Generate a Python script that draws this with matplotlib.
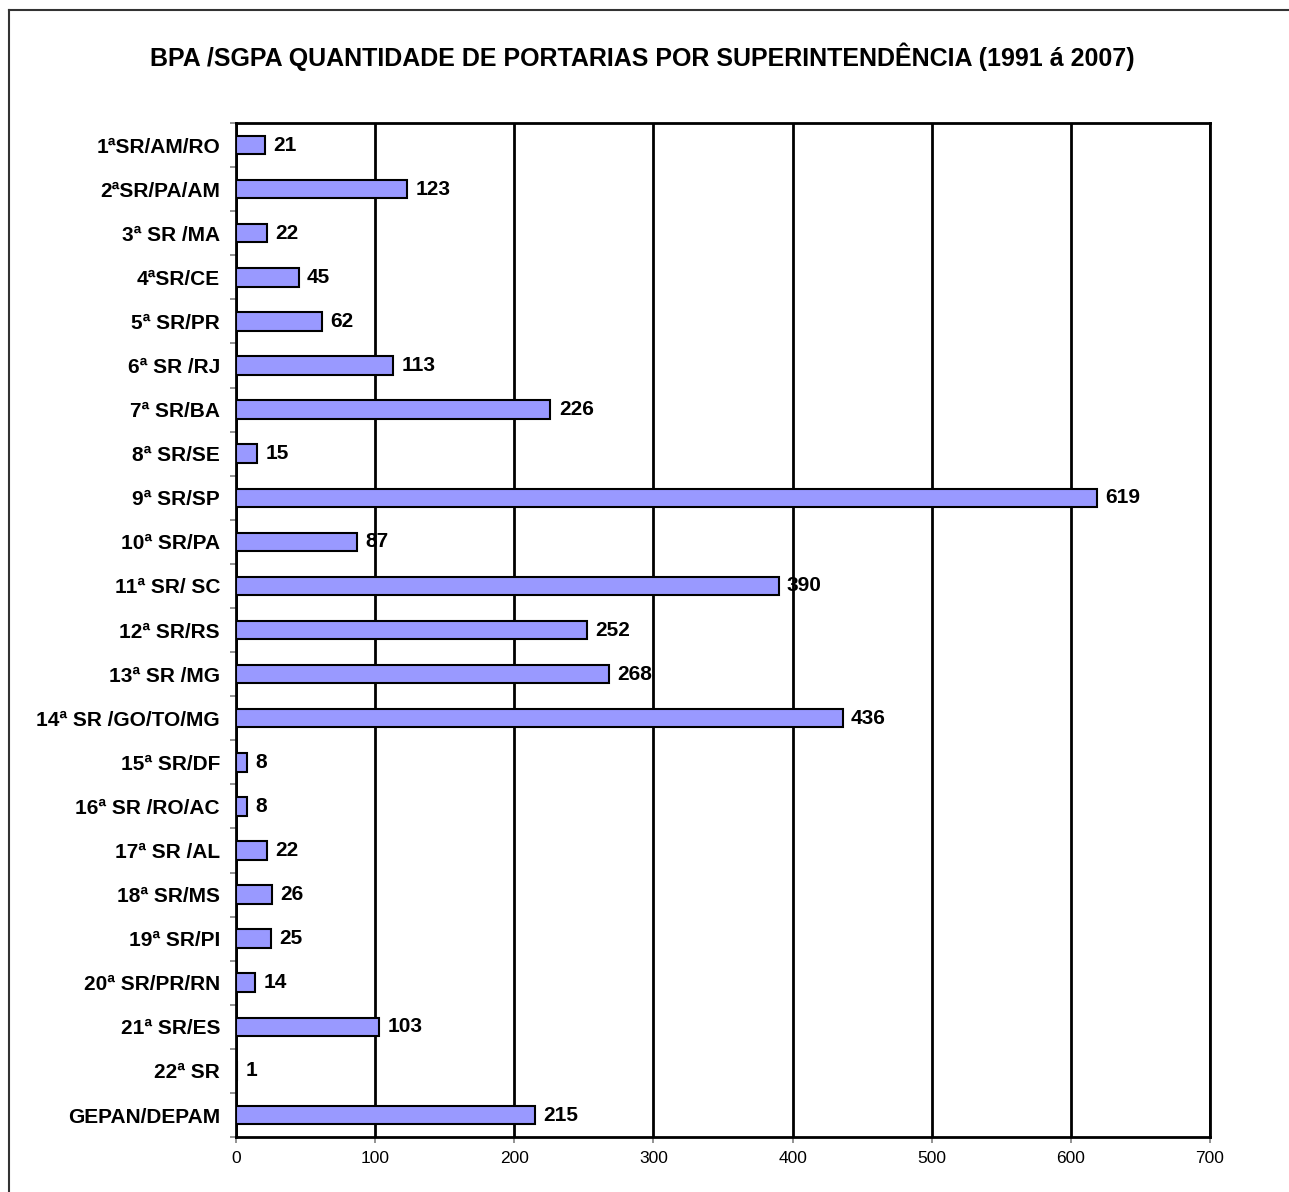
import matplotlib.pyplot as plt
from matplotlib.lines import Line2D
import numpy as np

plt.rcParams["font.family"] = ["Liberation Sans", "DejaVu Sans"]

CATEGORIES = [
    "1ªSR/AM/RO", "2ªSR/PA/AM", "3ª SR /MA", "4ªSR/CE", "5ª SR/PR",
    "6ª SR /RJ", "7ª SR/BA", "8ª SR/SE", "9ª SR/SP", "10ª SR/PA",
    "11ª SR/ SC", "12ª SR/RS", "13ª SR /MG", "14ª SR /GO/TO/MG", "15ª SR/DF",
    "16ª SR /RO/AC", "17ª SR /AL", "18ª SR/MS", "19ª SR/PI", "20ª SR/PR/RN",
    "21ª SR/ES", "22ª SR", "GEPAN/DEPAM",
]
PORTARIAS = [
    21, 123, 22, 45, 62, 113, 226, 15, 619, 87, 390, 252, 268, 436,
    8, 8, 22, 26, 25, 14, 103, 1, 215,
]
X_TICKS = [0, 100, 200, 300, 400, 500, 600, 700]

TITLE = "BPA /SGPA QUANTIDADE DE PORTARIAS POR SUPERINTENDÊNCIA (1991 á 2007)"


def main():
    fig = plt.figure(figsize=(12.89, 11.92), dpi=100)
    ax = fig.add_axes([0.1831, 0.0461, 0.7556, 0.8507])

    y = np.arange(len(CATEGORIES))
    ax.barh(y, PORTARIAS, height=0.42, color="#9999FF",
            edgecolor="black", linewidth=1.5, zorder=3)

    for yi, v in zip(y, PORTARIAS):
        ax.annotate(str(v), (v, yi), xytext=(6, 0), textcoords="offset points",
                    va="center", ha="left", fontsize=15, fontweight="bold",
                    zorder=4)

    ax.set_xlim(0, 700)
    ax.set_ylim(len(CATEGORIES) - 0.5, -0.5)
    ax.set_xticks(X_TICKS)
    ax.set_xticklabels([str(t) for t in X_TICKS], fontsize=12.5)
    ax.set_yticks(y)
    ax.set_yticklabels(CATEGORIES, fontsize=15, fontweight="bold")
    ax.set_yticks(np.arange(len(CATEGORIES) + 1) - 0.5, minor=True)

    ax.tick_params(axis="y", which="major", length=0, pad=11.5)
    ax.tick_params(axis="y", which="minor", length=4, width=1.2,
                   color="#808080", direction="out")
    ax.tick_params(axis="x", length=4, width=1.2, color="#808080", pad=6)

    ax.grid(axis="x", color="black", linewidth=2, zorder=1)
    ax.set_axisbelow(True)
    for side in ["top", "right", "left", "bottom"]:
        ax.spines[side].set_linewidth(2)
        ax.spines[side].set_color("black")

    fig.text(0.498, 0.952, TITLE, ha="center", va="center",
             fontsize=18, fontweight="bold")

    # outer chart border (left and top edges)
    fig.add_artist(Line2D([0.0066, 0.0066], [0, 1 - 10 / 1192],
                          transform=fig.transFigure, color="#333333", linewidth=1.5))
    fig.add_artist(Line2D([0.0066, 1], [1 - 10 / 1192, 1 - 10 / 1192],
                          transform=fig.transFigure, color="#333333", linewidth=1.5))

    fig.savefig("out.png", dpi=100)
    plt.close(fig)


if __name__ == "__main__":
    main()
